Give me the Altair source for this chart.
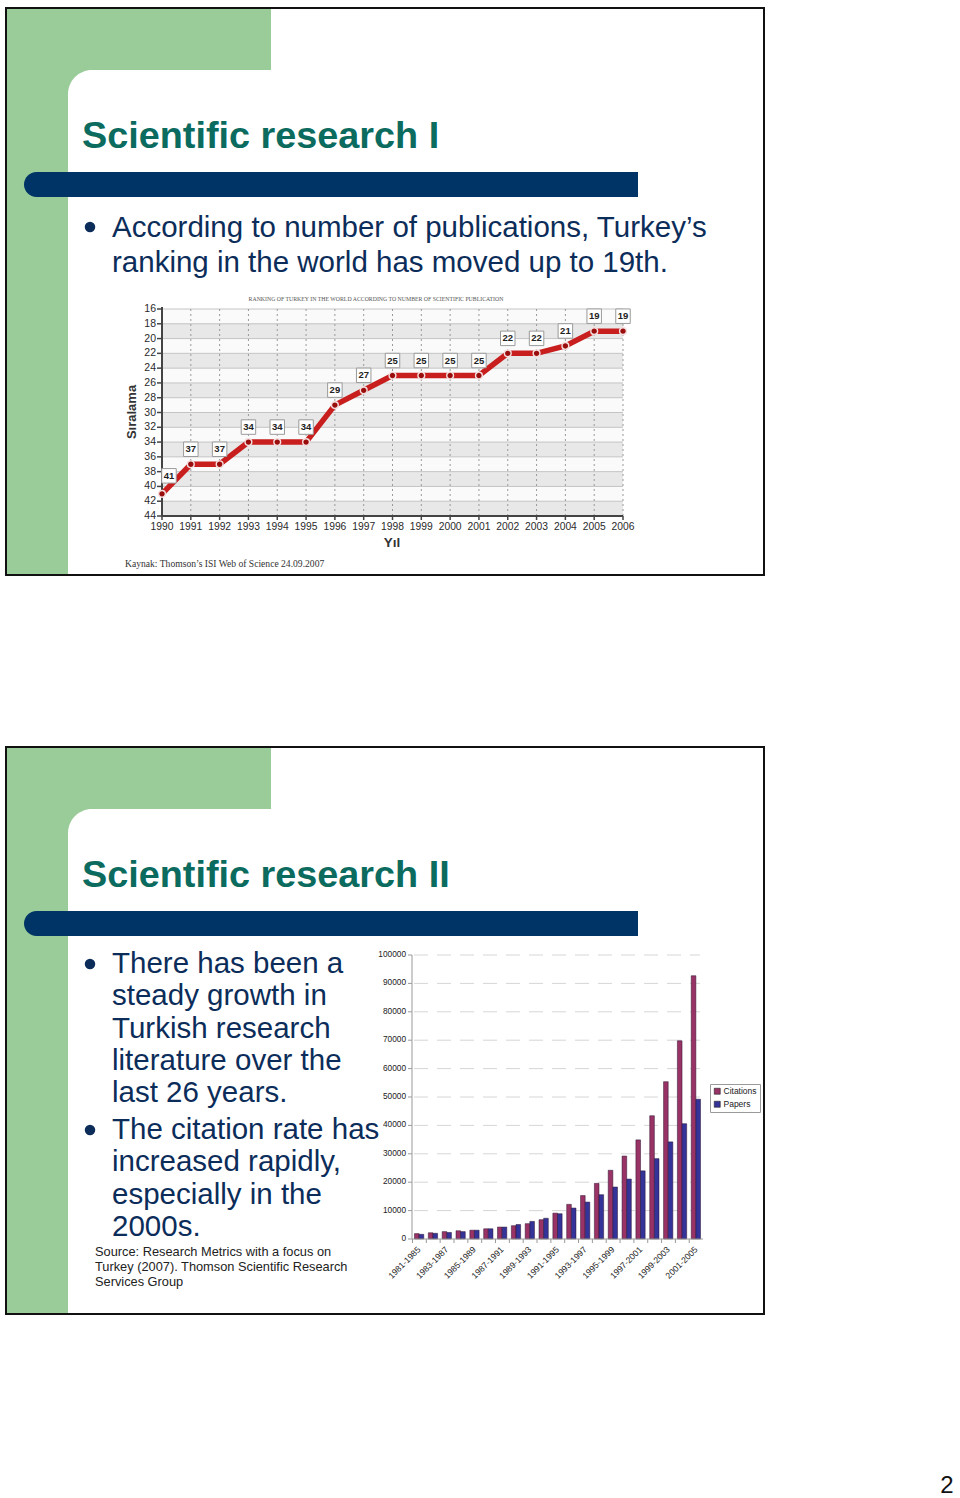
import altair as alt
import pandas as pd

# ---------------- data ----------------
# Slide 1: ranking line chart
years = [1990, 1991, 1992, 1993, 1994, 1995, 1996, 1997, 1998, 1999, 2000,
         2001, 2002, 2003, 2004, 2005, 2006]
ranks = [41, 37, 37, 34, 34, 34, 29, 27, 25, 25, 25, 25, 22, 22, 21, 19, 19]
rank_ticks = [16, 18, 20, 22, 24, 26, 28, 30, 32, 34, 36, 38, 40, 42, 44]
band_lows = [18, 22, 26, 30, 34, 38, 42]

# Slide 2: citations / papers bar chart
periods = ["1981-1985", "1982-1986", "1983-1987", "1984-1988", "1985-1989",
           "1986-1990", "1987-1991", "1988-1992", "1989-1993", "1990-1994",
           "1991-1995", "1992-1996", "1993-1997", "1994-1998", "1995-1999",
           "1996-2000", "1997-2001", "1998-2002", "1999-2003", "2000-2004",
           "2001-2005"]
citations = [1900, 2200, 2600, 2900, 3100, 3600, 4200, 4700, 5400, 6800, 9100,
             12200, 15300, 19600, 24200, 29200, 34900, 43400, 55400, 69800, 92700]
papers = [1650, 2000, 2300, 2600, 3100, 3600, 4200, 5100, 6200, 7300, 8900,
          10900, 13000, 15600, 18300, 21100, 24000, 28300, 34200, 40600, 49200]
bar_ticks = [0, 10000, 20000, 30000, 40000, 50000, 60000, 70000, 80000, 90000, 100000]
bar_labels = ["1981-1985", "1983-1987", "1985-1989", "1987-1991", "1989-1993",
              "1991-1995", "1993-1997", "1995-1999", "1997-2001", "1999-2003",
              "2001-2005"]
series = ["Citations", "Papers"]
series_colors = ["#993366", "#333399"]

# ---------------- text ----------------
title1 = "Scientific research I"
title2 = "Scientific research II"
bullet1 = ["According to number of publications, Turkey\u2019s",
           "ranking in the world has moved up to 19th."]
bullet2a = ["There has been a", "steady growth in", "Turkish research",
            "literature over the", "last 26 years."]
bullet2b = ["The citation rate has", "increased rapidly,",
            "especially in the", "2000s."]
source2 = ["Source: Research Metrics with a focus on",
           "Turkey (2007). Thomson Scientific Research",
           "Services Group"]
chart1_title = "RANKING OF TURKEY IN THE WORLD ACCORDING TO NUMBER OF SCIENTIFIC PUBLICATION"
chart1_source = "Kaynak: Thomson\u2019s ISI Web of Science  24.09.2007"

SANS = "Liberation Sans"
SERIF = "Liberation Serif"
GREEN = "#99CC99"
NAVY = "#003366"
TEAL = "#0B6B5E"
TXT = "#0C2D5A"

one = alt.Data(values=[{"k": 0}])


def rect(x, x2, y, y2, **kw):
    return alt.Chart(one).mark_rect(**kw).encode(
        x=alt.value(x), x2=alt.value(x2), y=alt.value(y), y2=alt.value(y2))


def text(s, x, y, **kw):
    return alt.Chart(one).mark_text(**kw).encode(
        x=alt.value(x), y=alt.value(y), text=alt.value(s))


def dot(x, y, size=110, color=TXT):
    return alt.Chart(one).mark_point(filled=True, size=size, color=color, opacity=1).encode(
        x=alt.value(x), y=alt.value(y))


def slide(top, title, bottom):
    layers = [
        rect(7, 763, top + 1, bottom - 1, color="white"),
        rect(7, 271, top + 1, bottom - 1, color=GREEN),
        rect(68, 763, top + 62, bottom - 1, color="white", cornerRadiusTopLeft=24),
        text(title, 82, top + 140, font=SANS, fontSize=37.8, fontWeight="bold",
             color=TEAL, align="left", baseline="alphabetic"),
        rect(24, 638, top + 164, top + 189, color=NAVY,
             cornerRadiusTopLeft=12.5, cornerRadiusBottomLeft=12.5),
    ]
    return layers


def frame(top, bottom):
    return rect(6, 764, top, bottom, filled=False, stroke="#111111", strokeWidth=2)


def para(lines, x, y, size=29.5, lh=32.3, color=TXT, font=SANS):
    return alt.Chart(one).mark_text(font=font, fontSize=size, color=color, align="left",
                                    baseline="alphabetic", lineHeight=lh).encode(
        x=alt.value(x), y=alt.value(y), text=alt.value(lines))


# ---------------- slide 1 line chart ----------------
XS = alt.Scale(domain=[1990, 2006], range=[162, 623], nice=False, zero=False)
YS = alt.Scale(domain=[16, 44], range=[309, 516], nice=False, zero=False)

df_rank = pd.DataFrame({"year": years, "rank": ranks})
df_rticks = pd.DataFrame({"t": rank_ticks})
df_years = pd.DataFrame({"year": years})
df_band = pd.DataFrame({"lo": band_lows})

ax = lambda f: alt.X(f, scale=XS, axis=None)
ay = lambda f: alt.Y(f, scale=YS, axis=None)

line_layers = [
    rect(162, 623, 309, 516, color="#fafafa"),
    alt.Chart(df_band).transform_calculate(hi="datum.lo + 2").mark_rect(color="#e8e8e8").encode(
        x=alt.value(162), x2=alt.value(623), y=ay("lo:Q"), y2="hi:Q"),
    alt.Chart(df_rticks).mark_rule(color="#c4c4c4", strokeWidth=1).encode(
        x=alt.value(162), x2=alt.value(623), y=ay("t:Q")),
    alt.Chart(df_years).mark_rule(color="#9a9a9a", strokeWidth=1, strokeDash=[2, 3]).encode(
        x=ax("year:Q"), y=alt.value(309), y2=alt.value(516)),
    alt.Chart(df_rticks).mark_rule(color="#444444", strokeWidth=1.5).encode(
        x=alt.value(157), x2=alt.value(162), y=ay("t:Q")),
    alt.Chart(df_rticks).mark_text(font=SANS, fontSize=10.5, color="#2a2a2a", align="right",
                                   baseline="middle").encode(
        x=alt.value(156), y=ay("t:Q"), text="t:Q"),
    alt.Chart(df_years).mark_rule(color="#444444", strokeWidth=1.5).encode(
        x=ax("year:Q"), y=alt.value(516), y2=alt.value(520)),
    alt.Chart(df_years).mark_text(font=SANS, fontSize=10.3, color="#2a2a2a", align="center",
                                  baseline="middle").encode(
        x=ax("year:Q"), y=alt.value(527), text="year:N"),
    rect(161, 163, 307, 517, color="#444444"),
    rect(161, 623, 515, 517, color="#444444"),
    alt.Chart(df_rank).mark_line(color="#c81e1e", strokeWidth=5.5).encode(
        x=ax("year:Q"), y=ay("rank:Q")),
    alt.Chart(df_rank).mark_point(filled=True, color="#9a0d0d", size=46, stroke="#f4dede",
                                  strokeWidth=1.4, opacity=1).encode(
        x=ax("year:Q"), y=ay("rank:Q")),
    alt.Chart(df_rank).transform_filter("datum.year > 1990").mark_point(
        shape="square", filled=True, fill="white", stroke="#9a9a9a", strokeWidth=1,
        size=210, opacity=1, yOffset=-15).encode(x=ax("year:Q"), y=ay("rank:Q")),
    alt.Chart(df_rank).transform_filter("datum.year > 1990").mark_text(
        font=SANS, fontSize=9.5, fontWeight="bold", color="#222222", yOffset=-15,
        baseline="middle").encode(x=ax("year:Q"), y=ay("rank:Q"), text="rank:Q"),
    alt.Chart(df_rank).transform_filter("datum.year == 1990").mark_point(
        shape="square", filled=True, fill="white", stroke="#9a9a9a", strokeWidth=1,
        size=210, opacity=1, xOffset=7, yOffset=-18).encode(x=ax("year:Q"), y=ay("rank:Q")),
    alt.Chart(df_rank).transform_filter("datum.year == 1990").mark_text(
        font=SANS, fontSize=9.5, fontWeight="bold", color="#222222", xOffset=7, yOffset=-18,
        baseline="middle").encode(x=ax("year:Q"), y=ay("rank:Q"), text="rank:Q"),
    text(chart1_title, 376, 301, font=SERIF, fontSize=5.8, color="#555555", align="center",
         baseline="alphabetic"),
    text("S\u0131ralama", 132, 412, font=SANS, fontSize=13, fontWeight="bold",
         color="#333333", angle=270, align="center", baseline="middle"),
    text("Y\u0131l", 392, 543, font=SANS, fontSize=13.5, fontWeight="bold", color="#333333",
         align="center", baseline="middle"),
    text(chart1_source, 125, 567, font=SERIF, fontSize=9.6, color="#333333", align="left",
         baseline="alphabetic"),
]

# ---------------- slide 2 bar chart ----------------
BXS = alt.Scale(domain=periods, range=[412, 703], paddingInner=0.33, paddingOuter=0.18)
BYS = alt.Scale(domain=[0, 100000], range=[1239, 955], nice=False, zero=True)

df_bars = pd.DataFrame({
    "period": periods * 2,
    "series": ["Citations"] * len(periods) + ["Papers"] * len(periods),
    "value": citations + papers,
})
df_bticks = pd.DataFrame({"t": bar_ticks})
df_blabels = pd.DataFrame({"period": bar_labels})
df_periods = pd.DataFrame({"period": periods})

bar_layers = [
    alt.Chart(df_bticks).transform_filter("datum.t > 0").mark_rule(
        color="#d6d6d6", strokeWidth=1, strokeDash=[14, 9]).encode(
        x=alt.value(414), x2=alt.value(700), y=alt.Y("t:Q", scale=BYS, axis=None)),
    alt.Chart(df_bars).mark_bar(stroke="#2a1030", strokeWidth=0.5).encode(
        x=alt.X("period:N", scale=BXS, axis=None, sort=periods),
        xOffset=alt.XOffset("series:N", scale=alt.Scale(domain=series)),
        y=alt.Y("value:Q", scale=BYS, axis=None),
        color=alt.Color("series:N", scale=alt.Scale(domain=series, range=series_colors),
                        legend=alt.Legend(orient="none", legendX=710, legendY=1084,
                                          title=None, strokeColor="#9a9a9a",
                                          fillColor="white", padding=3,
                                          symbolType="square", symbolSize=36,
                                          symbolStrokeColor="#222222",
                                          symbolStrokeWidth=0.6,
                                          labelFont=SANS, labelFontSize=8.5,
                                          labelColor="#222222", rowPadding=4,
                                          labelOffset=2, symbolOffset=0,
                                          labelLimit=60))),
    rect(411.5, 412.5, 955, 1239, color="#9a9a9a"),
    rect(412, 703, 1238.5, 1239.5, color="#9a9a9a"),
    alt.Chart(df_bticks).mark_rule(color="#9a9a9a", strokeWidth=1).encode(
        x=alt.value(408), x2=alt.value(412), y=alt.Y("t:Q", scale=BYS, axis=None)),
    alt.Chart(df_bticks).mark_text(font=SANS, fontSize=8.3, color="#222222", align="right",
                                   baseline="middle").encode(
        x=alt.value(406), y=alt.Y("t:Q", scale=BYS, axis=None), text="t:Q"),
    alt.Chart(df_periods).mark_rule(color="#9a9a9a", strokeWidth=1, xOffset=-2).encode(
        x=alt.X("period:N", scale=BXS, axis=None, sort=periods, bandPosition=0),
        y=alt.value(1239), y2=alt.value(1243)),
    alt.Chart(df_blabels).mark_text(font=SANS, fontSize=8.6, color="#222222", align="right",
                                    baseline="middle", angle=315).encode(
        x=alt.X("period:N", scale=BXS, axis=None, sort=periods),
        y=alt.value(1248), text="period:N"),
]

# ---------------- assemble ----------------
S1_TOP, S1_BOT = 8, 575
S2_TOP, S2_BOT = 747, 1314

layers = []
layers += slide(S1_TOP, title1, S1_BOT)
layers += [dot(90, 227), para(bullet1, 112, 237, lh=35)]
layers += line_layers
layers += [frame(S1_TOP, S1_BOT)]

layers += slide(S2_TOP, title2, S2_BOT)
layers += [dot(90, 964), para(bullet2a, 112, 973),
           dot(90, 1130), para(bullet2b, 112, 1139),
           para(source2, 95, 1256, size=12.8, lh=15, color="#222222")]
layers += bar_layers
layers += [frame(S2_TOP, S2_BOT)]
layers += [text("2", 947, 1486, font=SANS, fontSize=24, color="#111111", align="center",
                baseline="middle")]

chart = alt.layer(*layers).resolve_scale(
    x="independent", y="independent", color="independent"
).properties(
    width=960, height=1498, padding=0, autosize="none", background="white"
).configure_view(strokeWidth=0)

chart.save("out.html", embed_options={"renderer": "svg", "actions": False})
